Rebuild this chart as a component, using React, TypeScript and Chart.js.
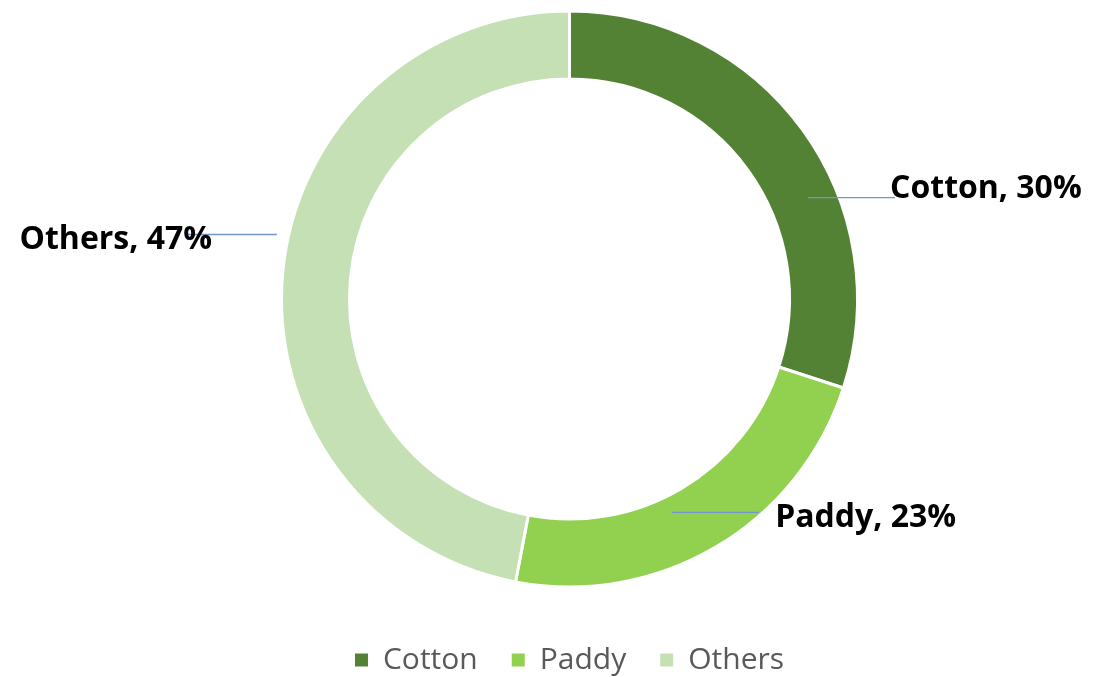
import React, { useEffect, useRef } from "react";
import { Chart, registerables } from "chart.js";

Chart.register(...registerables);

const categories = ["Cotton", "Paddy", "Others"];
const shares = [30, 23, 47];
const colors = ["#548235", "#92D050", "#C5E0B4"];

// Leader-line / label placement, in units of the outer radius, relative to the donut centre
const labelPlacement = [
  { from: [0.828, -0.352], to: [1.13, -0.352], text: [1.113, -0.352], align: "left" },
  { from: [0.356, 0.741], to: [0.658, 0.741], text: [0.714, 0.793], align: "left" },
  { from: [-1.325, -0.224], to: [-1.016, -0.224], text: [-1.241, -0.175], align: "right" },
];

const labelPlugin = {
  id: "calloutLabels",
  afterDatasetsDraw(chart: any) {
    const meta = chart.getDatasetMeta(0);
    const ctx = chart.ctx;
    meta.data.forEach((arc: any, i: number) => {
      const p = labelPlacement[i];
      const { x, y, outerRadius } = arc.getProps(["x", "y", "outerRadius"], true);
      const R = outerRadius;
      ctx.save();
      ctx.strokeStyle = "#7294CC";
      ctx.lineWidth = 1.3;
      ctx.beginPath();
      ctx.moveTo(x + p.from[0] * R, y + p.from[1] * R);
      ctx.lineTo(x + p.to[0] * R, y + p.to[1] * R);
      ctx.stroke();
      ctx.fillStyle = "#000000";
      ctx.font = "bold 32px 'Open Sans'";
      ctx.textAlign = p.align;
      ctx.textBaseline = "alphabetic";
      ctx.fillText(`${categories[i]}, ${shares[i]}%`, x + p.text[0] * R, y + p.text[1] * R);
      ctx.restore();
    });
  },
};

export default function App() {
  const ref = useRef<HTMLCanvasElement | null>(null);
  useEffect(() => {
    if (!ref.current) return;
    const chart = new Chart(ref.current, {
      type: "doughnut",
      data: {
        labels: categories,
        datasets: [
          {
            data: shares,
            backgroundColor: colors,
            borderColor: "#ffffff",
            borderWidth: 3,
          },
        ],
      },
      options: {
        responsive: true,
        maintainAspectRatio: false,
        animation: false,
        radius: 288,
        cutout: "76.4%",
        layout: { padding: { left: 40, right: 0, top: 0, bottom: -8 } },
        plugins: {
          tooltip: { enabled: false },
          legend: {
            position: "bottom",
            labels: {
              boxWidth: 13,
              boxHeight: 13,
              padding: 34,
              color: "#595959",
              font: { size: 30, family: "'Open Sans'" },
              generateLabels: (chart: any) =>
                categories.map((c, i) => ({
                  text: c,
                  fillStyle: colors[i],
                  strokeStyle: colors[i],
                  lineWidth: 0,
                  fontColor: "#595959",
                  hidden: false,
                  index: i,
                })),
            },
          },
        },
      },
      plugins: [labelPlugin],
    });
    return () => chart.destroy();
  }, []);
  return (
    <div style={{ position: "fixed", left: 0, top: -13, width: 1099, height: 690, background: "#fff" }}>
      <canvas ref={ref} />
    </div>
  );
}
